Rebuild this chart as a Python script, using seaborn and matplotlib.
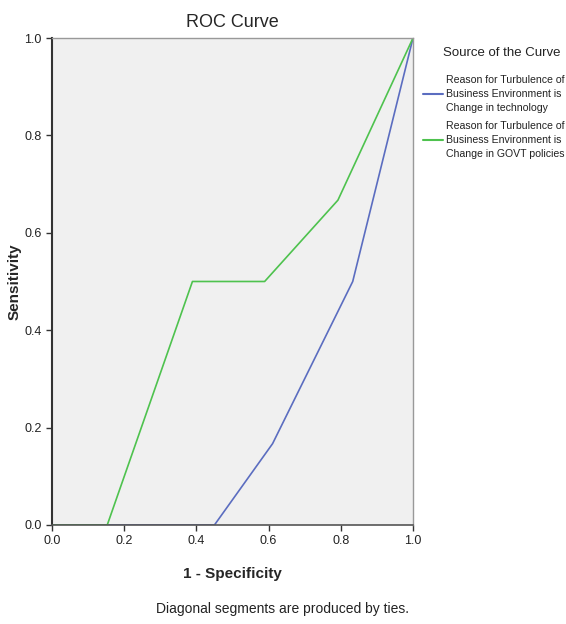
import matplotlib
matplotlib.use("Agg")
import matplotlib.pyplot as plt
import seaborn as sns
import pandas as pd
from matplotlib.lines import Line2D

# Data
series_names = [
    "Reason for Turbulence of\nBusiness Environment is\nChange in technology",
    "Reason for Turbulence of\nBusiness Environment is\nChange in GOVT policies",
]
tech_fpr = [0.0, 0.45, 0.611, 0.833, 1.0]
tech_tpr = [0.0, 0.0, 0.167, 0.5, 1.0]
govt_fpr = [0.0, 0.153, 0.389, 0.589, 0.792, 1.0]
govt_tpr = [0.0, 0.0, 0.5, 0.5, 0.667, 1.0]
ticks = [0.0, 0.2, 0.4, 0.6, 0.8, 1.0]
tick_labels = ["0.0", "0.2", "0.4", "0.6", "0.8", "1.0"]
colors = ["#5B6DC0", "#4EC24E"]

df = pd.concat([
    pd.DataFrame({"x": tech_fpr, "y": tech_tpr, "series": series_names[0]}),
    pd.DataFrame({"x": govt_fpr, "y": govt_tpr, "series": series_names[1]}),
])

sns.set_style("white")
plt.rcParams["font.family"] = ["Liberation Sans", "DejaVu Sans"]

fig = plt.figure(figsize=(5.66, 6.24), dpi=100)
ax = fig.add_axes([0.0919, 0.1587, 0.6378, 0.7804])
ax.set_facecolor("#F0F0F0")

sns.lineplot(data=df, x="x", y="y", hue="series", palette=colors, estimator=None,
             sort=False, units="series", linewidth=1.2, ax=ax, legend=False)

ax.set_xlim(0, 1)
ax.set_ylim(0, 1)
ax.set_xticks(ticks)
ax.set_xticklabels(tick_labels)
ax.set_yticks(ticks)
ax.set_yticklabels(tick_labels)
ax.tick_params(axis="both", direction="out", length=4, width=1, labelsize=9,
               color="#333333", labelcolor="#222222", bottom=True, left=True)
for side in ["top", "right"]:
    ax.spines[side].set_color("#999999")
    ax.spines[side].set_linewidth(1.0)
ax.spines["left"].set_color("#333333")
ax.spines["left"].set_linewidth(1.5)
ax.spines["bottom"].set_color("#555555")
ax.spines["bottom"].set_linewidth(1.2)

ax.set_xlabel("1 - Specificity", fontsize=11, fontweight="bold")
ax.xaxis.set_label_coords(0.5, -(567 - 525) / 487, transform=ax.transAxes)
ax.set_ylabel("Sensitivity", fontsize=11, fontweight="bold", va="center")
ax.yaxis.set_label_coords(-(52 - 15) / 361, 0.5, transform=ax.transAxes)
ax.set_title("ROC Curve", fontsize=13, pad=8)

# Legend
fig.text(443 / 566, 1 - 53 / 624, "Source of the Curve", fontsize=9.5, va="center",
         ha="left", color="#222222")
handles = [Line2D([0], [0], color=c, lw=1.5) for c in colors]
leg = fig.legend(handles, series_names, loc="upper left", bbox_to_anchor=(0.748, 1 - 75 / 624),
                 frameon=False, fontsize=7.6, handlelength=1.9, handletextpad=0.25,
                 labelspacing=0.75, borderpad=0, borderaxespad=0)
for t in leg.get_texts():
    t.set_linespacing(1.5)
    t.set_color("#222222")

fig.text(0.5, 1 - 609 / 624, "Diagonal segments are produced by ties.", ha="center",
         va="center", fontsize=10, color="#222222")

fig.savefig("out.png", dpi=100)
